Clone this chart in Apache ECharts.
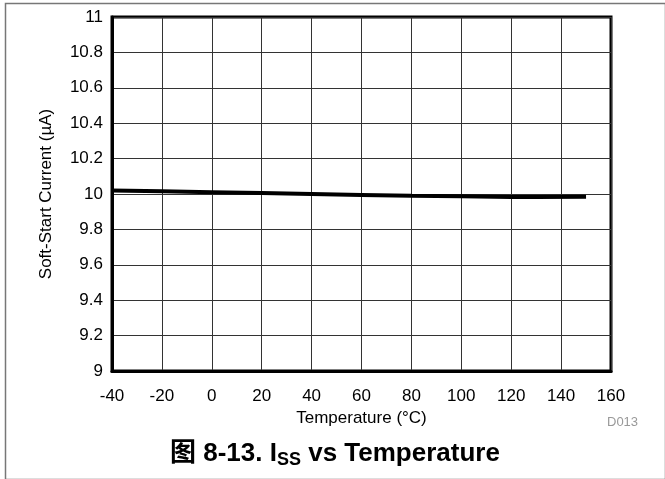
<!DOCTYPE html>
<html><head><meta charset="utf-8">
<script src="https://cdn.jsdelivr.net/npm/echarts@6/dist/echarts.min.js"></script>
<style>html,body{margin:0;padding:0;background:#fff}#c{width:665px;height:479px}</style>
</head><body><div id="c"></div>
<script>
var temperatures = [-40, -20, 0, 20, 40, 60, 80, 100, 120, 130, 150];
var currents = [10.02, 10.015, 10.01, 10.005, 10.0, 9.995, 9.99, 9.987, 9.983, 9.983, 9.985];
var xTicks = [-40, -20, 0, 20, 40, 60, 80, 100, 120, 140, 160];
var yTicks = [9, 9.2, 9.4, 9.6, 9.8, 10, 10.2, 10.4, 10.6, 10.8, 11];

var chart = echarts.init(document.getElementById('c'), null, {renderer: 'canvas'});
var font = 'Liberation Sans, Arial, Helvetica, sans-serif';
chart.setOption({
  animation: false,
  backgroundColor: '#fff',
  grid: {left: 112, right: 54, top: 17, bottom: 108, show: true, borderColor: '#000', borderWidth: 3, backgroundColor: 'transparent'},
  xAxis: {
    type: 'value', min: xTicks[0], max: xTicks[xTicks.length - 1], interval: 20,
    name: 'Temperature (°C)', nameLocation: 'middle', nameGap: 30,
    nameTextStyle: {fontFamily: font, fontSize: 17, color: '#000'},
    axisLine: {show: true, onZero: false, lineStyle: {color: '#000', width: 3}},
    axisTick: {show: false},
    axisLabel: {fontFamily: font, fontSize: 17, color: '#000', margin: 17},
    splitLine: {show: true, lineStyle: {color: '#333', width: 1}}
  },
  yAxis: {
    type: 'value', min: yTicks[0], max: yTicks[yTicks.length - 1], interval: 0.2,
    name: 'Soft-Start Current (µA)', nameLocation: 'middle', nameGap: 57,
    nameTextStyle: {fontFamily: font, fontSize: 17, color: '#000'},
    axisLine: {show: true, onZero: false, lineStyle: {color: '#000', width: 3}},
    axisTick: {show: false},
    axisLabel: {fontFamily: font, fontSize: 17, color: '#000', margin: 9,
      formatter: function (v) { return String(parseFloat(v.toFixed(1))); }},
    splitLine: {show: true, lineStyle: {color: '#333', width: 1}}
  },
  series: [{
    type: 'line', showSymbol: false, smooth: false,
    data: temperatures.map(function (t, i) { return [t, currents[i]]; }),
    lineStyle: {color: '#000', width: 4}
  }],
  graphic: [
    {type: 'rect', left: 3, top: 1, shape: {width: 660, height: 476},
     style: {fill: 'none', stroke: '#777', lineWidth: 1.5}, silent: true},
    {type: 'text', left: 607, top: 416,
     style: {text: 'D013', fontFamily: font, fontSize: 13, fill: '#999'}},
    {type: 'text', left: 170, top: 441,
     style: {
       text: '{a|图 8-13. I}{s|SS}{a| vs Temperature}',
       rich: {
         a: {fontFamily: 'Liberation Sans, Noto Sans CJK SC, sans-serif', fontSize: 26, fontWeight: 'bold', fill: '#000'},
         s: {fontFamily: 'Liberation Sans, sans-serif', fontSize: 18, fontWeight: 'bold', fill: '#000', padding: [12, 0, 0, 0]}
       }
     }}
  ]
});
</script>
</body></html>
